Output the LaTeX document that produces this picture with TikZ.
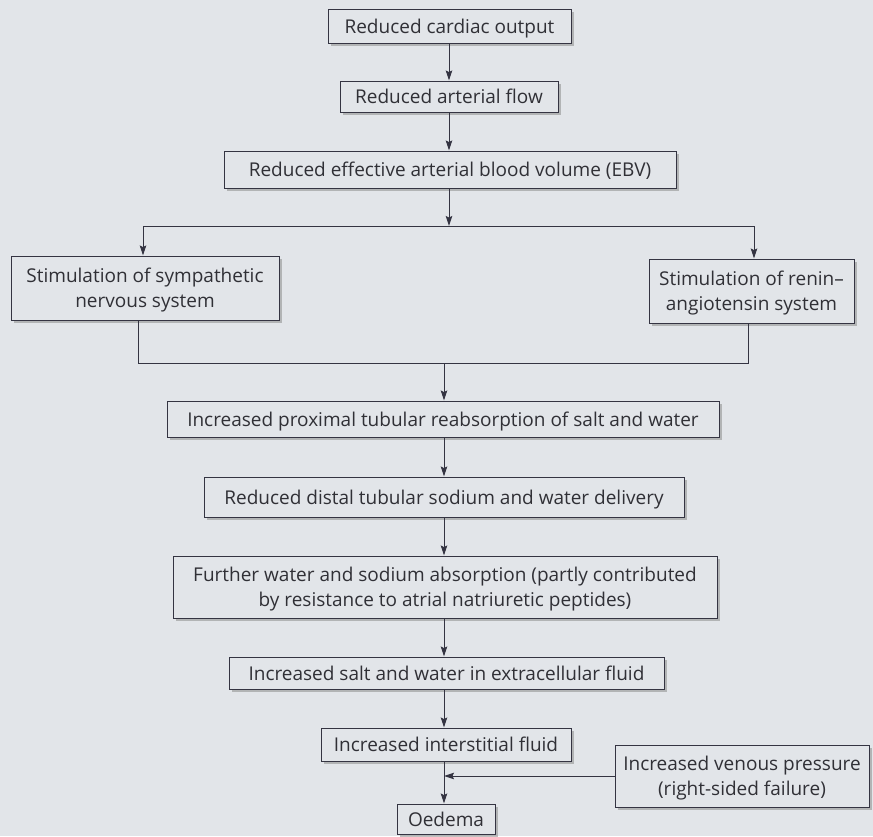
\documentclass[tikz,border=0pt]{standalone}
\usepackage{fontspec}
\setmainfont{Open Sans}
\usetikzlibrary{arrows.meta,shadows}
\definecolor{bgc}{RGB}{226,229,233}
\definecolor{linec}{RGB}{52,52,66}
\definecolor{textc}{RGB}{48,48,54}
\begin{document}
\begin{tikzpicture}[x=1pt,y=-1pt,
  box/.style={draw=linec, line width=1pt, fill=bgc, inner sep=0pt, align=center,
    text=textc, font=\fontsize{19}{25}\selectfont, text depth=0pt,
    drop shadow={shadow xshift=2.5pt, shadow yshift=-2.5pt, opacity=0.55, fill=gray!90}},
  link/.style={draw=linec, line width=1pt},
  arr/.style={link, -{Stealth[length=10pt,width=6.5pt,inset=1.5pt]}}]
\fill[bgc] (0,0) rectangle (873,836);
\useasboundingbox (0,0) rectangle (873,836);
\node[box, minimum width=243pt, minimum height=34pt] (b1) at (449.5,26) {Reduced cardiac output};
\node[box, minimum width=218pt, minimum height=31pt] (b2) at (449,96.5) {Reduced arterial flow};
\node[box, minimum width=452pt, minimum height=37pt] (b3) at (450,169.5) {Reduced effective arterial blood volume (EBV)};
\node[box, minimum width=268pt, minimum height=64pt] (sl) at (145,288) {Stimulation of sympathetic\\nervous system};
\node[box, minimum width=205pt, minimum height=64pt] (sr) at (751.5,291) {Stimulation of renin--\\angiotensin system};
\node[box, minimum width=552pt, minimum height=36pt] (pr) at (443,419) {Increased proximal tubular reabsorption of salt and water};
\node[box, minimum width=480pt, minimum height=40pt] (di) at (444,497) {Reduced distal tubular sodium and water delivery};
\node[box, minimum width=544pt, minimum height=62pt] (fu) at (445,587) {Further water and sodium absorption (partly contributed\\by resistance to atrial natriuretic peptides)};
\node[box, minimum width=435pt, minimum height=32pt] (ec) at (446.5,673) {Increased salt and water in extracellular fluid};
\node[box, minimum width=250pt, minimum height=33pt] (in) at (446,744.5) {Increased interstitial fluid};
\node[box, minimum width=254pt, minimum height=62pt] (vp) at (742,776) {Increased venous pressure\\(right-sided failure)};
\node[box, minimum width=98pt, minimum height=30pt] (oe) at (446,819) {Oedema};
\coordinate (ux) at (449,0);
\coordinate (cx) at (444,0);
\coordinate (br) at (449,226);
\coordinate (lin) at (143,0);
\coordinate (rin) at (754,0);
\coordinate (lout) at (138,0);
\coordinate (rout) at (748,0);
\coordinate (mg) at (444,363);
\draw[arr] (b1.south -| ux) -- (b2.north -| ux);
\draw[arr] (b2.south -| ux) -- (b3.north -| ux);
\draw[arr] (b3.south -| ux) -- (br);
\draw[arr] (br) -| (sl.north -| lin);
\draw[arr] (br) -| (sr.north -| rin);
\draw[link] (sl.south -| lout) |- (mg);
\draw[link] (sr.south -| rout) |- (mg);
\draw[arr] (mg) -- (pr.north -| cx);
\draw[arr] (pr.south -| cx) -- (di.north -| cx);
\draw[arr] (di.south -| cx) -- (fu.north -| cx);
\draw[arr] (fu.south -| cx) -- (ec.north -| cx);
\draw[arr] (ec.south -| cx) -- (in.north -| cx);
\draw[arr] (in.south -| cx) -- (oe.north -| cx);
\draw[arr] (vp.west) -- (vp.west -| cx);
\end{tikzpicture}
\end{document}
